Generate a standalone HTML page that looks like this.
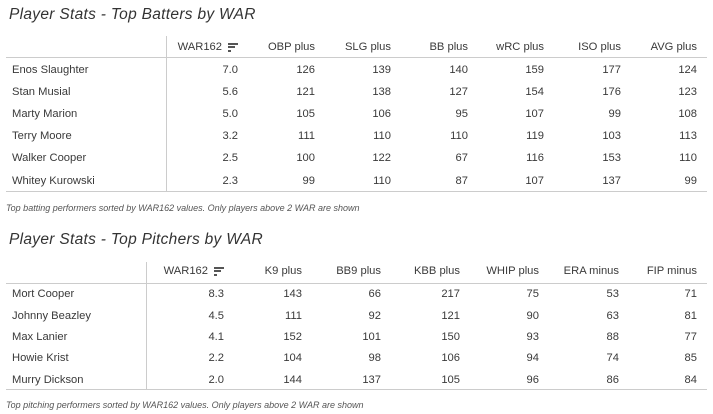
<!DOCTYPE html>
<html><head><style>
body{margin:0;width:713px;height:414px;background:#fff;font-family:"Liberation Sans",sans-serif;color:#3a3a3a;position:relative;overflow:hidden}
.t{position:absolute;font-size:15.5px;font-style:italic;color:#333;letter-spacing:0.3px}
.c{position:absolute;font-size:9px;font-style:italic;color:#555}
.x{position:absolute;font-size:11.2px;white-space:nowrap;line-height:14px}
.r{text-align:right}
.h{position:absolute;background:#ccc;height:1px}
.v{position:absolute;background:#ccc;width:1px}
.ic{display:inline-block;vertical-align:middle;margin-left:6px;width:10px;height:9px;position:relative}
.ic i{position:absolute;left:0;height:2px;background:#555}
</style></head><body>
<div class="t" style="left:9px;top:6px">Player Stats - Top Batters by WAR</div>
<div class="h" style="left:6px;top:57px;width:701px"></div>
<div class="h" style="left:6px;top:191px;width:701px"></div>
<div class="v" style="left:166px;top:36px;height:156px"></div>
<div class="c" style="left:6px;top:203px">Top batting performers sorted by WAR162 values. Only players above 2 WAR are shown</div>

<div class="t" style="left:9px;top:231px">Player Stats - Top Pitchers by WAR</div>
<div class="h" style="left:6px;top:283px;width:701px"></div>
<div class="h" style="left:6px;top:389px;width:701px"></div>
<div class="v" style="left:146px;top:262px;height:128px"></div>
<div class="c" style="left:6px;top:400px">Top pitching performers sorted by WAR162 values. Only players above 2 WAR are shown</div>
<div id="g"></div>
<script>
function T(rows,hdr,rights,hy,ys,nameX){
 let s='';
 hdr.forEach((h,i)=>{
  let txt=h; if(i==0) txt=h+'<span class="ic"><i style="top:0;width:10px"></i><i style="top:3.5px;width:7px"></i><i style="top:7px;width:3px"></i></span>';
  s+=`<div class="x r" style="right:${713-rights[i]}px;top:${hy-7}px">${txt}</div>`;
 });
 rows.forEach((r,j)=>{
  s+=`<div class="x" style="left:${nameX}px;top:${ys[j]-7}px">${r[0]}</div>`;
  for(let i=1;i<r.length;i++) s+=`<div class="x r" style="right:${713-rights[i-1]}px;top:${ys[j]-7}px">${r[i]}</div>`;
 });
 return s;
}
let h='';
h+=T([["Enos Slaughter","7.0",126,139,140,159,177,124],["Stan Musial","5.6",121,138,127,154,176,123],["Marty Marion","5.0",105,106,95,107,99,108],["Terry Moore","3.2",111,110,110,119,103,113],["Walker Cooper","2.5",100,122,67,116,153,110],["Whitey Kurowski","2.3",99,110,87,107,137,99]],
["WAR162","OBP plus","SLG plus","BB plus","wRC plus","ISO plus","AVG plus"],[238,315,391,468,544,621,697],47,[70,92,114,136,158,181],12);
h+=T([["Mort Cooper","8.3",143,66,217,75,53,71],["Johnny Beazley","4.5",111,92,121,90,63,81],["Max Lanier","4.1",152,101,150,93,88,77],["Howie Krist","2.2",104,98,106,94,74,85],["Murry Dickson","2.0",144,137,105,96,86,84]],
["WAR162","K9 plus","BB9 plus","KBB plus","WHIP plus","ERA minus","FIP minus"],[224,302,381,460,539,619,697],271,[294,316,337,358,380],12);
document.getElementById('g').innerHTML=h;
</script>
</body></html>
